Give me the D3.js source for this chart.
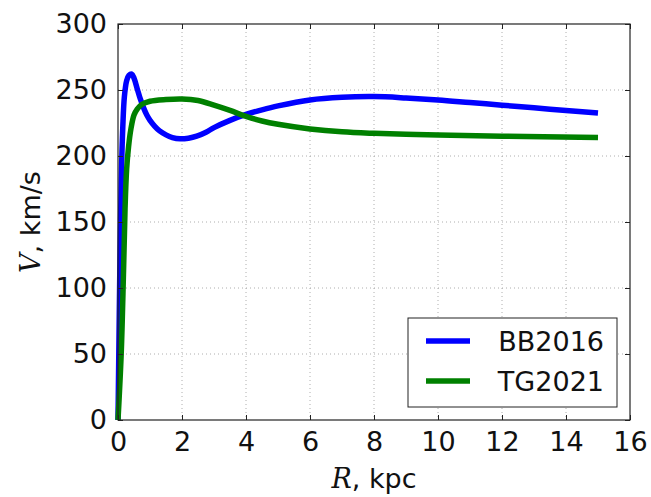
<!DOCTYPE html>
<html>
<head>
<meta charset="utf-8">
<script src="https://cdn.jsdelivr.net/npm/d3@7"></script>
<style>
  body { margin: 0; background: #fff; }
  svg text { font-family: "DejaVu Sans", sans-serif; fill: #111; }
</style>
</head>
<body>
<div id="chart"></div>
<script>
const width = 651;
const height = 497;
const margin = {top: 24, right: 21, bottom: 77, left: 118};

// data
const xTicks = [0, 2, 4, 6, 8, 10, 12, 14, 16];
const yTicks = [0, 50, 100, 150, 200, 250, 300];
const seriesNames = ["BB2016", "TG2021"];
const seriesColors = ["#0000ff", "#008000"];

const bbR = [0, 0.03, 0.06, 0.1, 0.15, 0.2, 0.27, 0.34, 0.43, 0.5, 0.6, 0.7, 0.8, 0.9, 1.0, 1.15, 1.3, 1.5, 1.7, 1.94, 2.2, 2.46, 2.75, 3.0, 3.5, 4.0, 4.5, 5.0, 6.0, 7.0, 8.0, 9.0, 10.0, 11.0, 12.0, 13.0, 14.0, 15.0];
const bbV = [0, 60, 120, 180, 222, 245, 257, 261, 262, 259, 251, 243, 236.5, 231, 227, 222.5, 219, 216, 214, 213, 213.5, 215, 218, 221.5, 227, 231.5, 235, 238, 242.5, 244.5, 245, 244, 242.5, 240.5, 238.5, 236.5, 234.5, 232.5];

const tgR = [0, 0.1, 0.17, 0.22, 0.27, 0.33, 0.4, 0.5, 0.6, 0.74, 1.0, 1.5, 2.0, 2.5, 3.0, 3.5, 4.0, 4.5, 5.0, 6.0, 7.0, 8.0, 9.0, 10.0, 12.0, 15.0];
const tgV = [0, 50, 110, 160, 190, 207, 220, 231, 235.5, 239, 241.5, 242.8, 243.2, 242, 238.5, 234.5, 230, 226.5, 224, 220.5, 218.3, 217.2, 216.5, 216, 215, 214];

const series = [
    {name: seriesNames[0], color: seriesColors[0], values: bbR.map((r, i) => ({r: r, v: bbV[i]}))},
    {name: seriesNames[1], color: seriesColors[1], values: tgR.map((r, i) => ({r: r, v: tgV[i]}))}
];

const plotW = width - margin.left - margin.right;
const plotH = height - margin.top - margin.bottom;

const svg = d3.select("#chart").append("svg")
    .attr("width", width)
    .attr("height", height);

const g = svg.append("g")
    .attr("transform", `translate(${margin.left},${margin.top})`);

//----------------------------SCALES----------------------------//
const x = d3.scaleLinear().domain([0, 16]).range([0, plotW]);
const y = d3.scaleLinear().domain([0, 300]).range([plotH, 0]);

//-----------------------------GRID-----------------------------//
g.append("g").selectAll("line")
    .data(xTicks.slice(1, -1))
    .join("line")
    .attr("x1", d => x(d)).attr("x2", d => x(d))
    .attr("y1", 0).attr("y2", plotH)
    .attr("stroke", "#999").attr("stroke-width", 0.8)
    .attr("stroke-dasharray", "1,3");

g.append("g").selectAll("line")
    .data(yTicks.slice(1, -1))
    .join("line")
    .attr("y1", d => y(d)).attr("y2", d => y(d))
    .attr("x1", 0).attr("x2", plotW)
    .attr("stroke", "#999").attr("stroke-width", 0.8)
    .attr("stroke-dasharray", "1,3");

//----------------------------LINES-----------------------------//
const line = d3.line()
    .curve(d3.curveCatmullRom.alpha(0.5))
    .x(d => x(d.r))
    .y(d => y(d.v));

g.selectAll(".serie")
    .data(series)
    .join("path")
    .attr("class", "serie")
    .attr("fill", "none")
    .attr("stroke", d => d.color)
    .attr("stroke-width", 5.5)
    .attr("stroke-linejoin", "round")
    .attr("d", d => line(d.values));

//-----------------------------AXES-----------------------------//
const tickLen = 5;
g.append("g")
    .attr("transform", `translate(0,${plotH})`)
    .call(d3.axisBottom(x).tickValues(xTicks).tickSize(-tickLen).tickPadding(12))
    .call(a => a.select(".domain").remove())
    .selectAll("text").style("font-size", "27px");

g.append("g")
    .call(d3.axisTop(x).tickValues(xTicks).tickSize(-tickLen).tickFormat(""))
    .call(a => a.select(".domain").remove());

g.append("g")
    .call(d3.axisLeft(y).tickValues(yTicks).tickSize(-tickLen).tickPadding(11))
    .call(a => a.select(".domain").remove())
    .selectAll("text").style("font-size", "27px");

g.append("g")
    .attr("transform", `translate(${plotW},0)`)
    .call(d3.axisRight(y).tickValues(yTicks).tickSize(-tickLen).tickFormat(""))
    .call(a => a.select(".domain").remove());

g.selectAll(".tick line").attr("stroke", "#222");

g.append("rect")
    .attr("width", plotW).attr("height", plotH)
    .attr("fill", "none").attr("stroke", "#222").attr("stroke-width", 1.2);

//----------------------------LABELS----------------------------//
const xLabel = svg.append("text")
    .attr("x", margin.left + plotW / 2)
    .attr("y", 488)
    .attr("text-anchor", "middle")
    .style("font-size", "27px");
xLabel.append("tspan").text("R")
    .style("font-family", "'DejaVu Serif', serif").style("font-style", "italic");
xLabel.append("tspan").text(", kpc");

const yLabel = svg.append("text")
    .attr("transform", `translate(40,${margin.top + plotH / 2}) rotate(-90)`)
    .attr("text-anchor", "middle")
    .style("font-size", "27px");
yLabel.append("tspan").text("V")
    .style("font-family", "'DejaVu Serif', serif").style("font-style", "italic");
yLabel.append("tspan").text(", km/s");

//----------------------------LEGEND----------------------------//
const legend = svg.append("g").attr("transform", "translate(408,318)");
legend.append("rect")
    .attr("width", 209).attr("height", 89)
    .attr("fill", "#fff").attr("stroke", "#222").attr("stroke-width", 1);

const items = legend.selectAll(".item")
    .data(series)
    .join("g")
    .attr("class", "item")
    .attr("transform", (d, i) => `translate(0,${23 + i * 40})`);

items.append("line")
    .attr("x1", 18).attr("x2", 62)
    .attr("stroke", d => d.color).attr("stroke-width", 5.5);

items.append("text")
    .attr("x", 196).attr("y", 10)
    .attr("text-anchor", "end")
    .style("font-size", "27px")
    .text(d => d.name);
</script>
</body>
</html>
